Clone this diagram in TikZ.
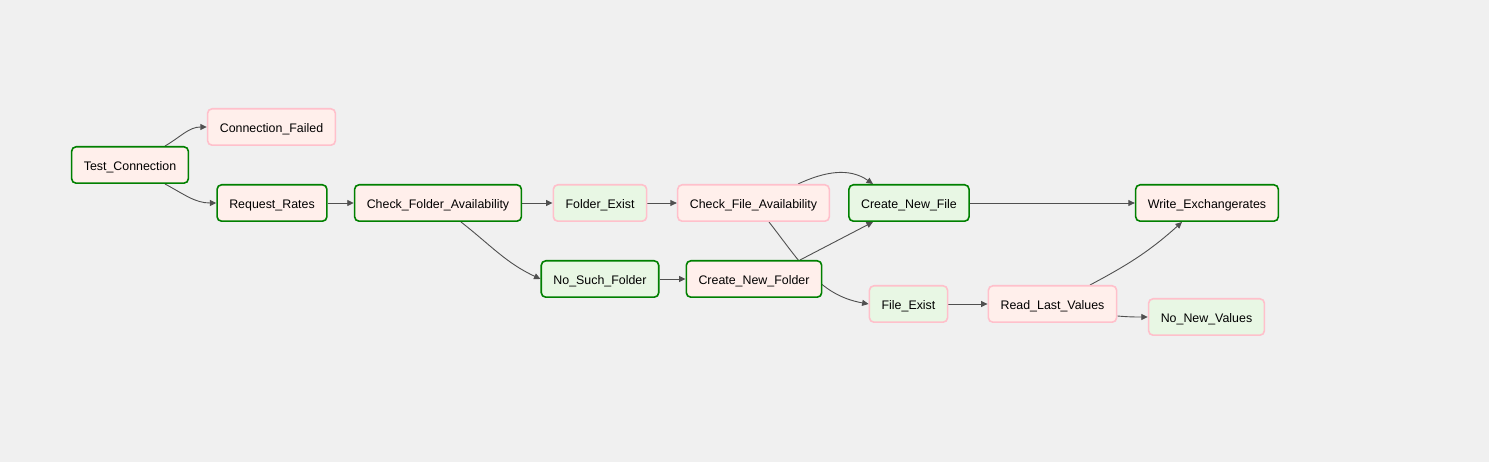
\documentclass[tikz,border=0pt]{standalone}
\usepackage{fontspec}
\setmainfont{Liberation Sans}
\usetikzlibrary{arrows.meta}
\definecolor{bgcol}{HTML}{F0F0F0}
\definecolor{pyfill}{HTML}{FFEFEB}
\definecolor{dumfill}{HTML}{E8F7E4}
\definecolor{okline}{HTML}{008000}
\definecolor{skipline}{HTML}{FFC0CB}
\definecolor{edgecol}{HTML}{505050}
\pgfdeclarelayer{background}
\pgfdeclarelayer{edges}
\pgfsetlayers{background,edges,main}

\begin{document}
\begin{tikzpicture}[x=1pt, y=-1pt,
    every node/.style={font=\fontsize{12.4}{14}\selectfont},
    task/.style={rounded corners=4.5pt, line width=1.6pt, minimum height=36.4pt,
        inner xsep=12.2pt, text height=11.5pt, text depth=0pt},
    pyok/.style={task, draw=okline, fill=pyfill},
    pyskip/.style={task, draw=skipline, fill=pyfill},
    dumok/.style={task, draw=okline, fill=dumfill},
    dumskip/.style={task, draw=skipline, fill=dumfill},
    edge/.style={draw=edgecol, line width=0.9pt, -{Triangle[length=6.5pt,width=6pt]}}]
    \begin{pgfonlayer}{background}
        \fill[bgcol] (0,0) rectangle (1489,462);
    \end{pgfonlayer}
    \useasboundingbox (0,0) rectangle (1489,462);

    \node[pyok]    (TC)  at (130,165)    {Test\_Connection};
    \node[pyskip]  (CF)  at (271.5,127)  {Connection\_Failed};
    \node[pyok]    (RR)  at (272,203)    {Request\_Rates};
    \node[pyok]    (CFA) at (438,203)    {Check\_Folder\_Availability};
    \node[dumskip] (FE)  at (600,203)    {Folder\_Exist};
    \node[dumok]   (NSF) at (600,279)    {No\_Such\_Folder};
    \node[pyskip]  (CFiA) at (753.5,203) {Check\_File\_Availability};
    \node[pyok]    (CNFo) at (754,279)   {Create\_New\_Folder};
    \node[dumok]   (CNFi) at (909,203)   {Create\_New\_File};
    \node[dumskip] (FiE) at (908.5,304)  {File\_Exist};
    \node[pyskip]  (RLV) at (1052.5,304) {Read\_Last\_Values};
    \node[pyok]    (WE)  at (1207,203)   {Write\_Exchangerates};
    \node[dumskip] (NNV) at (1206.5,317) {No\_New\_Values};

    \begin{pgfonlayer}{edges}
        \draw[edge] ([xshift=35pt]TC.north) to[out=30,in=180] (CF.west);
        \draw[edge] ([xshift=35pt]TC.south) to[out=-28,in=180] (RR.west);
        \draw[edge] (RR) -- (CFA);
        \draw[edge] (CFA) -- (FE);
        \draw[edge] ([xshift=23pt]CFA.south) to[out=-38,in=155] (NSF.west);
        \draw[edge] (FE) -- (CFiA);
        \draw[edge] (NSF) -- (CNFo);
        \draw[edge] ([xshift=44.5pt]CFiA.north) to[out=25,in=145] ([xshift=-36pt]CNFi.north);
        \draw[edge] ([xshift=15.5pt]CFiA.south) to[out=-52,in=170] (FiE.west);
        \draw[edge] ([xshift=46pt]CNFo.north) -- ([xshift=-36pt]CNFi.south);
        \draw[edge] (CNFi) -- (WE);
        \draw[edge] (FiE) -- (RLV);
        \draw[edge] ([xshift=37.5pt]RLV.north) to[out=28,in=-138] ([xshift=-25pt]WE.south);
        \draw[edge] ([yshift=-12pt]RLV.east) to[out=-5,in=180] (NNV.west);
    \end{pgfonlayer}
\end{tikzpicture}
\end{document}
